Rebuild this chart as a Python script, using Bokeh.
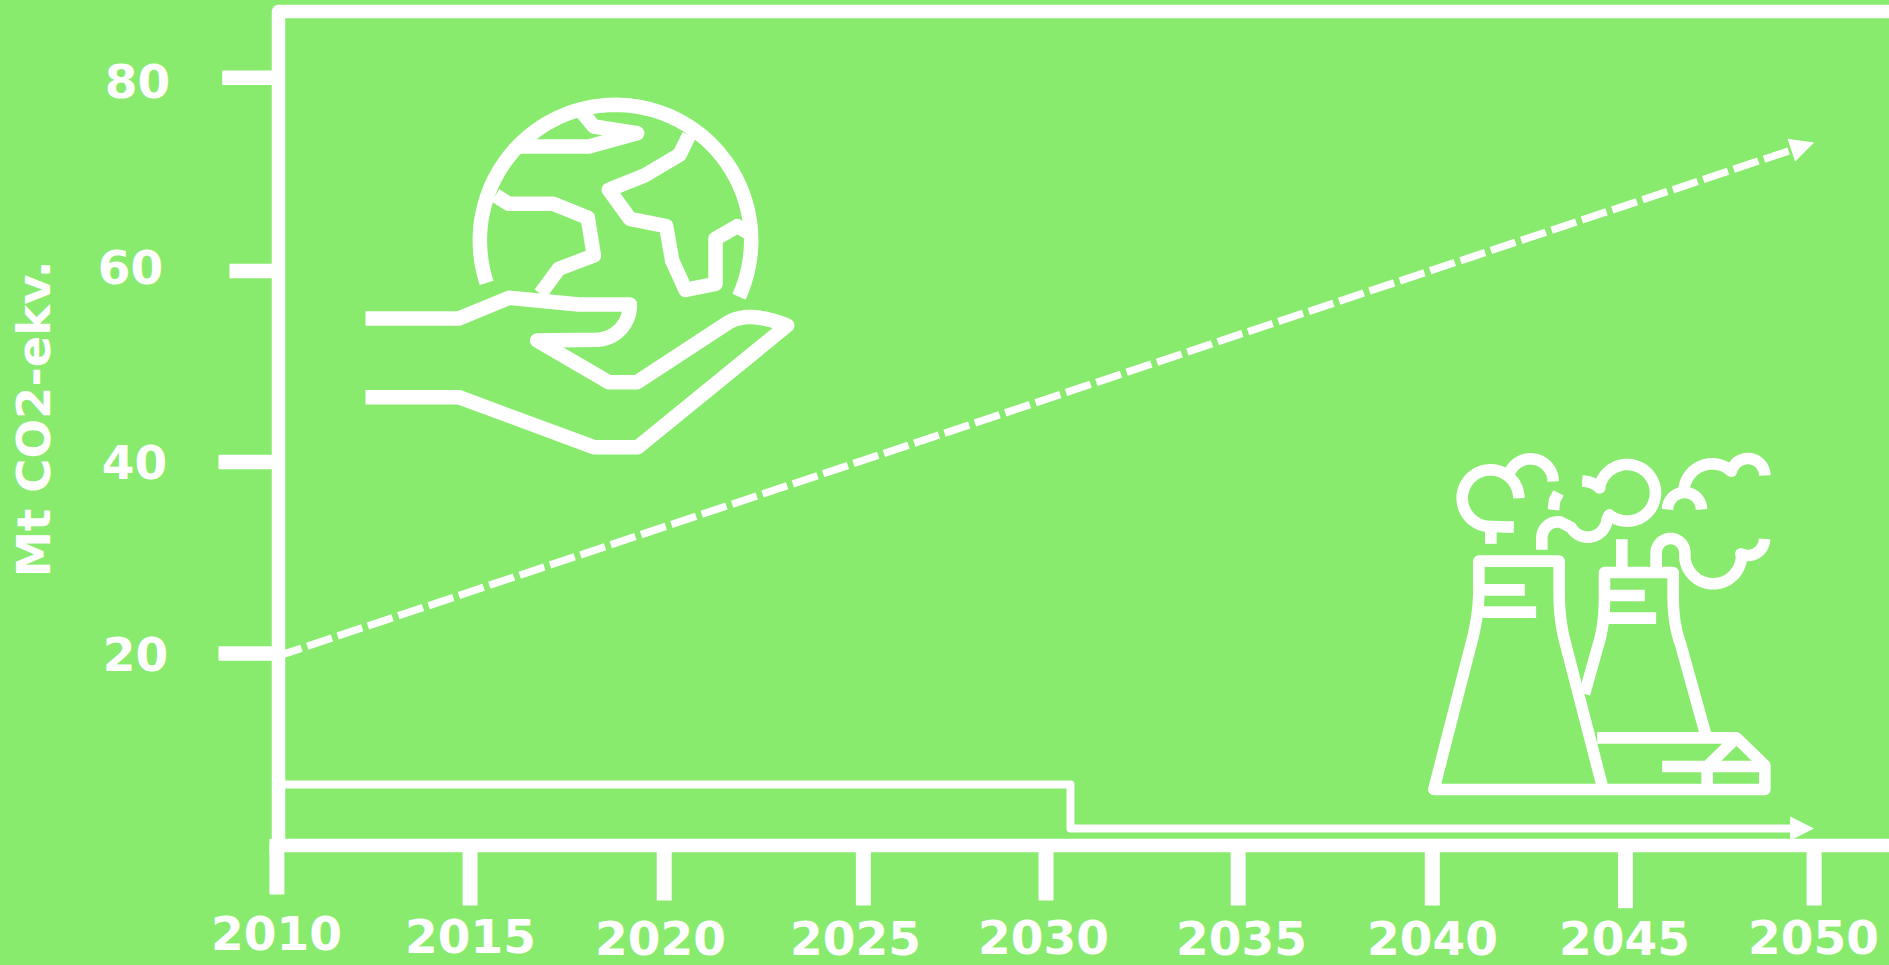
import numpy as np
from bokeh.embed import file_html
from bokeh.models import Arrow, Label, NormalHead, Range1d
from bokeh.plotting import figure
from bokeh.resources import INLINE

# Chart values
tick_years = [2010, 2015, 2020, 2025, 2030, 2035, 2040, 2045, 2050]
tick_values = [20, 40, 60, 80]
axis_title = "Mt CO2-ekv."
emission_years = [2010, 2050]
emission_values = [19.7, 73.25]
capture_years = [2010, 2030.65, 2030.65, 2050]
capture_values = [6.35, 6.35, 1.76, 1.76]

# Hand-drawn look: each tick and label sits slightly off its nominal place
x_tick_nudge = [0, 1, 3, 10, 0.5, 0.5, 2.5, 3.5, 0]
x_tick_bottom = [894, 905, 900, 905, 900, 905, 905, 907.7, 905]
x_label_x = [276, 470, 660, 855, 1043, 1241, 1432, 1624, 1813]
x_label_y = [932, 935, 937, 937, 936, 937, 937, 937, 936]
y_tick_nudge = [0, 0.5, 1.4, 0]
y_tick_left = [218, 218, 229, 221.7]
y_label_x = [135, 134, 130, 137]
y_label_y = [653.7, 461.7, 266.6, 80]

WHITE = "#ffffff"
GREEN = "#88eb6e"
W, H = 1889, 965
PX_PER_YEAR = 38.43
PX_PER_UNIT = 9.597
AXIS_X, AXIS_Y = 278, 846
HEAD = 24

p = figure(
    width=W, height=H, output_backend="svg", toolbar_location=None, min_border=0,
    x_range=Range1d(2010 - 276.4 / PX_PER_YEAR, 2010 + (W - 276.4) / PX_PER_YEAR),
    y_range=Range1d(20 - (H - 653) / PX_PER_UNIT, 20 + 653 / PX_PER_UNIT),
    background_fill_color=GREEN, border_fill_color=GREEN,
    styles={"background-color": GREEN},
)
p.axis.visible = False
p.grid.visible = False
p.outline_line_color = None
p.extra_x_ranges["px"] = Range1d(0, W)
p.extra_y_ranges["px"] = Range1d(H, 0)
PX = dict(x_range_name="px", y_range_name="px")


def arc(cx, cy, r, a0, a1, n=40):
    """Polyline points of a circular arc; angles in degrees, screen sense."""
    t = np.radians(np.linspace(a0, a1, n))
    return list(zip(cx + r * np.cos(t), cy + r * np.sin(t)))


def bend(a, c, b, n=16):
    """Quadratic curve from a to b pulled towards control point c."""
    t = np.linspace(0, 1, n)
    return [((1 - s) ** 2 * a[0] + 2 * s * (1 - s) * c[0] + s ** 2 * b[0],
             (1 - s) ** 2 * a[1] + 2 * s * (1 - s) * c[1] + s ** 2 * b[1]) for s in t]


def stroke(points, ox, oy, width):
    """Draw an icon polyline given in 3x local units, anchored at (ox, oy)."""
    xs = [ox + a / 3 for a, _ in points]
    ys = [oy + b / 3 for _, b in points]
    p.line(xs, ys, line_color=WHITE, line_width=width, line_join="round", line_cap="butt", **PX)


def caption(x, y, text, size="47px", angle=0):
    p.add_layout(Label(x=x, y=y, text=text, angle=angle, angle_units="deg",
                       text_font="DejaVu Sans", text_font_style="bold", text_font_size=size,
                       text_color=WHITE, text_align="center", text_baseline="middle", **PX))


# Frame, baseline and ticks
p.line([AXIS_X, AXIS_X, W], [AXIS_Y, 11, 11], line_color=WHITE, line_width=13.5, line_join="round", **PX)
p.line([2010 - 7.5 / PX_PER_YEAR, 2010 + W / PX_PER_YEAR], [0, 0], line_color=WHITE, line_width=13.5)
for yr, dx, bottom in zip(tick_years, x_tick_nudge, x_tick_bottom):
    x = yr + dx / PX_PER_YEAR
    p.segment([x], [AXIS_Y], [x], [bottom], line_color=WHITE, line_width=15, y_range_name="px")
for val, dy, left in zip(tick_values, y_tick_nudge, y_tick_left):
    y = val - dy / PX_PER_UNIT
    p.segment([left], [y], [AXIS_X], [y], line_color=WHITE, line_width=14.5, x_range_name="px")

# Tick labels and axis title
for x, y, yr in zip(x_label_x, x_label_y, tick_years):
    caption(x, y, str(yr))
for x, y, val in zip(y_label_x, y_label_y, tick_values):
    caption(x, y, str(val))
caption(33, 418.5, axis_title, size="46.5px", angle=90)

# Rising emissions, dashed, the shaft stopping where the arrow head begins
x0, x1 = emission_years
v0, v1 = emission_values
dx_px, dy_px = (x1 - x0) * PX_PER_YEAR, (v1 - v0) * PX_PER_UNIT
stop = 1 - (HEAD - 3) / np.hypot(dx_px, dy_px)
p.line([x0, x0 + (x1 - x0) * stop], [v0, v0 + (v1 - v0) * stop],
       line_color=WHITE, line_width=7.4, line_dash="26 6")
p.add_layout(Arrow(
    end=NormalHead(size=HEAD, fill_color=WHITE, line_color=WHITE, line_width=0),
    x_start=x0, y_start=v0, x_end=x1, y_end=v1, line_alpha=0,
))

# Captured volume, a step down with an arrow head
shaft_years = capture_years[:3] + [capture_years[3] - (HEAD - 3) / PX_PER_YEAR]
p.line(shaft_years, capture_values, line_color=WHITE, line_width=8, line_join="round")
p.add_layout(Arrow(
    end=NormalHead(size=HEAD, fill_color=WHITE, line_color=WHITE, line_width=0),
    x_start=capture_years[2], y_start=capture_values[2],
    x_end=capture_years[3], y_end=capture_values[3], line_alpha=0,
))

# Globe resting on an open hand
GX, GY, GW = 340, 80, 14.5
globe_parts = [
    arc(825, 480, 407, 161.8, 384.5, 120),
    [(722, 92), (760, 138), (890, 158), (745, 198), (535, 198)],
    [(1046, 164), (1017, 223), (912, 285), (805, 328), (868, 415), (977, 437), (995, 540),
     (1035, 628), (1125, 610), (1125, 475), (1190, 437), (1228, 458)],
    [(465, 345), (505, 370), (638, 370), (742, 412), (760, 525), (655, 565), (600, 640)],
    [(75, 714), (355, 714), (505, 652), (715, 672), (868, 672)]
    + arc(765, 675, 103, 0, 90, 20)
    + [(590, 780), (805, 905), (890, 905), (1165, 725)]
    + bend((1165, 725), (1225, 690), (1340, 735))
    + [(892, 1100), (760, 1100), (355, 950), (75, 950)],
]
for part in globe_parts:
    stroke(part, GX, GY, GW)

# Cooling towers with smoke
FX, FY, FW = 1400, 430, 11.6
factory_parts = [
    [(590, 922), (1008, 922), (1093, 1005), (1093, 1077), (100, 1077), (208, 655)]
    + bend((208, 655), (235, 560), (235, 480))
    + [(235, 392), (476, 392), (476, 490)]
    + bend((476, 490), (476, 570), (495, 640))
    + [(608, 1077)],
    [(235, 478), (373, 478)],
    [(235, 545), (407, 545)],
    [(552, 790), (590, 655)] + bend((590, 655), (612, 590), (612, 500))
    + [(612, 426), (818, 426), (818, 500)]
    + bend((818, 500), (818, 580), (840, 640)) + [(915, 910)],
    [(664, 326), (664, 426)],
    [(612, 495), (733, 495)],
    [(612, 563), (767, 563)],
    [(785, 1008), (920, 1008), (998, 932)],
    [(920, 1008), (1093, 1008)],
    [(920, 1008), (920, 1077)],
    arc(270, 203, 85, 0, -270, 50) + [(340, 290)],
    [(271, 290), (271, 340)],
    arc(390, 153, 68, 205, 360, 30),
    [(459, 238), (462, 210), (474, 187)],
    [(424, 358), (424, 325)] + arc(472, 322, 48, 180, 280, 14)
    + arc(562, 262, 58, 150, 5, 24)
    + arc(680, 187, 85, 129, -170, 60) + bend((598, 172), (575, 152), (545, 152), 8),
    arc(852, 237, 51, 180, 360, 24),
    arc(935, 185, 85, 180, 310, 24) + arc(1042, 135, 51, 195, 360, 24),
    [(767, 426)] + arc(810, 367, 43, 180, 360, 24) + arc(938, 375, 85, 180, 0, 40)
    + arc(1042, 325, 50, 115, 0, 20),
]
for part in factory_parts:
    stroke(part, FX, FY, FW)

open("out.html", "w").write(file_html(p, INLINE))
